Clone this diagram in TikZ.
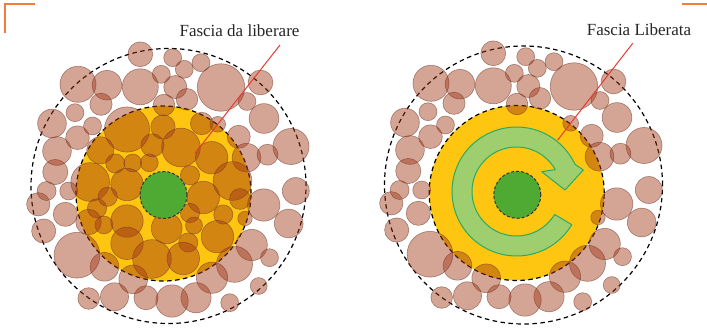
\documentclass[tikz,border=0pt]{standalone}
\usepackage{fontspec}
\setmainfont{Liberation Serif}
\definecolor{circfill}{RGB}{160,55,22}
\definecolor{circdraw}{RGB}{110,55,40}
\definecolor{yel}{RGB}{254,198,16}
\definecolor{grn}{RGB}{78,170,50}
\definecolor{arrfill}{RGB}{158,206,110}
\definecolor{arrdraw}{RGB}{40,170,100}
\definecolor{redl}{RGB}{228,60,50}
\definecolor{orng}{RGB}{240,125,60}
\tikzset{
  grain/.style={fill=circfill, fill opacity=0.45, draw=circdraw, draw opacity=0.55, line width=0.6pt},
  dashring/.style={draw=black, dash pattern=on 4.5pt off 3.5pt, line width=1.2pt},
  yeldisc/.style={fill=yel},
  grndisc/.style={fill=grn, draw=black!80, dash pattern=on 3pt off 2pt, line width=1pt},
  redline/.style={draw=redl, line width=1pt},
  lbl/.style={font=\fontsize{17}{20}\selectfont, text=black!85, inner sep=0pt},
  cornermark/.style={draw=orng, line width=2.7pt},
  arrowband/.style={fill=arrfill, draw=arrdraw, line width=1pt, line join=round}
}
\def\outerlist{493.3/53.3/11.5, 525.7/56.7/8.3, 537.3/68.3/8.3, 554/61.7/8.3, 514.3/73.3/8.3,
528.3/86/10.7, 540/98.3/10, 574/86.5/22, 613.5/81.5/11.5, 600/100.5/8.3, 617/117.5/13.8,
644/145.5/16.7, 591.7/135.8/10.7, 599.5/156.7/13.3, 620.5/153.7/9.7, 648.8/190/12.5,
616.7/204/15, 641.7/222.5/13.3, 598/217.5/6.7, 604.7/244/14.5, 622.5/256.7/8.3,
587.5/263.3/16.7, 611.7/285/7.8, 582.7/301.7/8.3, 565/276.7/14.5, 549/296.7/14,
525/300/15, 499/296.7/11.2, 486.2/278.3/13.3, 467.5/295.8/13, 441.7/297.5/10,
457.5/265.8/13.3, 430/254.2/21.2, 396.7/230/11.2, 418.3/213.3/11.2, 391.3/203.3/10.8,
399.6/190/8.8, 421.7/190/8.3, 408.3/171/11.7, 410/150/13.3, 430.5/136.7/11, 405/122.5/13.3,
428/111.7/8.3, 445.5/125/8.3, 431/83.3/16.7, 460/84.2/13.7, 454/103.3/10.3, 493.3/85.8/16.7,
517/104/10, 570.7/123.3/7.3}
\def\innerlist{127/129.5/19.5, 100.3/150.3/11.7, 152.5/145.3/10, 163/127/10.5, 115.3/163.5/8.3,
132.7/163/7.7, 149.3/162.8/7.7, 90.2/182/16.7, 127/184.5/14, 181/147.5/16.7, 201.7/123.5/9.7,
211.7/157.7/14, 190/175.2/8.3, 203.3/197.5/14, 232.5/181/16.7, 97/208.3/8.3, 88.5/222/11,
104/225/7.7, 127/221/14, 127/243.3/14, 152/259/16.7, 107.7/196.7/8.3, 166.7/228.3/13.3,
190/213/8.3, 194/225.5/7.3, 223.3/214.5/8.3, 217.5/236.7/14, 188.3/242.5/8.3, 183.3/258.5/14,
240/199/9}
\def\osc{1.08}
\def\isc{1.16}
\begin{document}
\begin{tikzpicture}[x=1pt,y=-1pt]
\useasboundingbox (0,0) rectangle (707,327);
\fill[white] (0,0) rectangle (707,327);
% corner marks
\draw[cornermark] (5,33) -- (5,4) -- (35,4);
\draw[cornermark] (682,4) -- (707,4);

% ---------------- left diagram ----------------
\draw[dashring] (168.5,186) circle (137.5pt);
\fill[yeldisc] (163.5,193.5) circle (87.5pt);
\draw[dashring] (163.5,193.5) circle (87.5pt);
\begin{scope}[shift={(-353,1)}]
\foreach \cx/\cy/\r in \outerlist { \path[grain] (\cx,\cy) circle[radius=\osc*\r pt]; }
\end{scope}
\foreach \cx/\cy/\r in \innerlist { \path[grain] (\cx,\cy) circle[radius=\isc*\r pt]; }
\path[grndisc] (163.5,195) circle (23.5pt);

% ---------------- right diagram ----------------
\draw[dashring] (523.5,185) circle (139pt);
\fill[yeldisc] (516.7,193) circle (87.5pt);
\draw[dashring] (516.7,193) circle (87.5pt);
\foreach \cx/\cy/\r in \outerlist { \path[grain] (\cx,\cy) circle[radius=\osc*\r pt]; }
\path[arrowband] plot[domain=25:329, samples=80] ({516.5+64.5*cos(\x)},{191.5-64.5*sin(\x)})
  -- plot[domain=329:29.5, samples=80] ({516.5+44.5*cos(\x)},{191.5-44.5*sin(\x)})
  -- (541.7,171.7) -- (565,190) -- (583.3,170) -- cycle;
\path[grndisc] (517.3,194.8) circle (23.5pt);

% ---------------- labels and leader lines ----------------
\node[lbl, anchor=base] (t1) at (239.5,36) {Fascia da liberare};
\node[lbl, anchor=base] (t2) at (639,35) {Fascia Liberata};
\coordinate (l1s) at (280,45);
\coordinate (l1e) at (195,153.3);
\coordinate (l2s) at (632.7,43.3);
\coordinate (l2e) at (557.7,140);
\draw[redline] (l1s) -- (l1e);
\draw[redline] (l2s) -- (l2e);
\end{tikzpicture}
\end{document}
